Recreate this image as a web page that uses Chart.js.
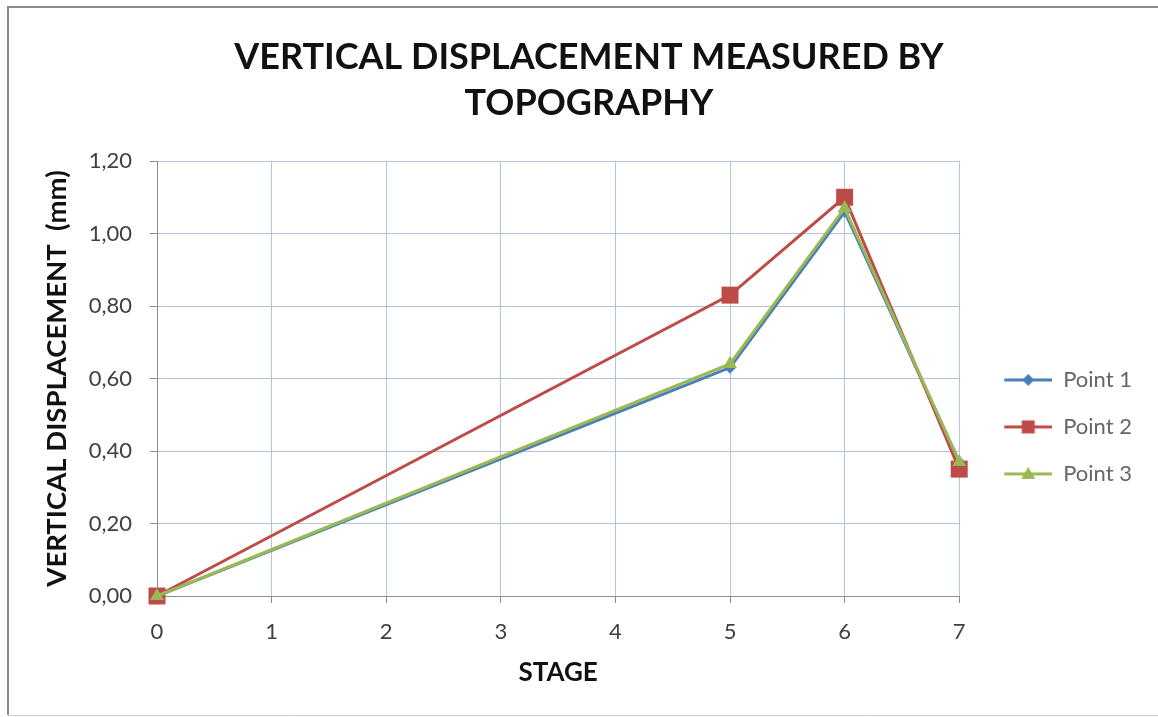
<!DOCTYPE html>
<html>
<head>
<meta charset="utf-8">
<script src="https://cdn.jsdelivr.net/npm/chart.js@4.4.1/dist/chart.umd.min.js"></script>
<style>
  html, body { margin: 0; padding: 0; background: #ffffff; }
  #wrap { width: 1158px; height: 717px; }
</style>
</head>
<body>
<div id="wrap"><canvas id="chart" width="1158" height="717"></canvas></div>
<script>
// Survey stages and vertical displacement (mm) of the three monitored points
const stages = [0, 5, 6, 7];
const point1 = [0.00, 0.63, 1.06, 0.37];
const point2 = [0.00, 0.83, 1.10, 0.35];
const point3 = [0.00, 0.64, 1.07, 0.37];
const seriesNames = ['Point 1', 'Point 2', 'Point 3'];
const yTicks = [0, 0.2, 0.4, 0.6, 0.8, 1.0, 1.2];

const colors = {
  blue: '#4a7ebb',
  red: '#be4b48',
  green: '#98b954'
};

const FONT = 'Lato, "Open Sans", sans-serif';

function pairs(values) {
  return stages.map((s, i) => ({ x: s, y: values[i] }));
}

// Legend sample: short line with the series marker in its middle
function legendIcon(color, marker) {
  const c = document.createElement('canvas');
  c.width = 68; c.height = 22;
  const g = c.getContext('2d');
  g.strokeStyle = color;
  g.lineWidth = 3;
  g.beginPath(); g.moveTo(20, 11); g.lineTo(68, 11); g.stroke();
  g.fillStyle = color;
  const cx = 44, cy = 11;
  g.beginPath();
  if (marker === 'diamond') {
    g.moveTo(cx, cy - 6); g.lineTo(cx + 6, cy); g.lineTo(cx, cy + 6); g.lineTo(cx - 6, cy);
  } else if (marker === 'square') {
    g.rect(cx - 6.5, cy - 6.5, 13, 13);
  } else {
    g.moveTo(cx, cy - 7); g.lineTo(cx + 7, cy + 5); g.lineTo(cx - 7, cy + 5);
  }
  g.closePath(); g.fill();
  return c;
}

const icons = [
  legendIcon(colors.blue, 'diamond'),
  legendIcon(colors.red, 'square'),
  legendIcon(colors.green, 'triangle')
];

// Grey frame around the chart
const framePlugin = {
  id: 'frame',
  beforeDraw(chart) {
    const ctx = chart.ctx;
    ctx.save();
    ctx.fillStyle = '#ffffff';
    ctx.fillRect(0, 0, chart.width, chart.height);
    ctx.strokeStyle = '#8a8a8a';
    ctx.lineWidth = 2;
    ctx.beginPath();
    ctx.moveTo(1158, 7); ctx.lineTo(8, 7); ctx.lineTo(8, 715);
    ctx.stroke();
    ctx.strokeStyle = '#d0d0d0';
    ctx.lineWidth = 1;
    ctx.beginPath();
    ctx.moveTo(8, 715.5); ctx.lineTo(1158, 715.5);
    ctx.stroke();
    ctx.restore();
  }
};

const datasetStyle = [
  { color: colors.blue, pointStyle: 'rectRot', radius: 6, order: 2 },
  { color: colors.red, pointStyle: 'rect', radius: 12, order: 1 },
  { color: colors.green, pointStyle: 'triangle', radius: 8, order: 0 }
];

const seriesValues = [point1, point2, point3];

const datasets = seriesValues.map((vals, i) => ({
  label: seriesNames[i],
  data: pairs(vals),
  borderColor: datasetStyle[i].color,
  backgroundColor: datasetStyle[i].color,
  borderWidth: 3,
  pointStyle: datasetStyle[i].pointStyle,
  pointRadius: datasetStyle[i].radius,
  pointBorderWidth: 0,
  pointBackgroundColor: datasetStyle[i].color,
  tension: 0,
  clip: false,
  order: datasetStyle[i].order
}));

new Chart(document.getElementById('chart'), {
  type: 'line',
  data: { datasets },
  plugins: [framePlugin],
  options: {
    responsive: false,
    animation: false,
    devicePixelRatio: 1,
    layout: { padding: { left: 36, right: 16, top: 8, bottom: 0 } },
    plugins: {
      tooltip: { enabled: false },
      title: {
        display: true,
        text: ['VERTICAL DISPLACEMENT MEASURED BY', 'TOPOGRAPHY'],
        color: '#111111',
        font: { family: FONT, size: 36, weight: 'bold', lineHeight: 46 / 36 },
        padding: { top: 26, bottom: 35 }
      },
      legend: {
        display: true,
        position: 'right',
        title: { display: true, text: ' ', padding: { top: 112, bottom: 0 }, font: { size: 14 } },
        labels: {
          usePointStyle: true,
          pointStyleWidth: 68,
          padding: 25,
          color: '#1a1a1a',
          font: { family: FONT, size: 22 },
          generateLabels: () => seriesNames.map((name, i) => ({
            text: name,
            pointStyle: icons[i],
            fillStyle: datasetStyle[i].color,
            strokeStyle: datasetStyle[i].color,
            lineWidth: 0,
            hidden: false,
            datasetIndex: i
          }))
        }
      }
    },
    scales: {
      x: {
        type: 'linear',
        min: 0,
        max: 7,
        ticks: {
          stepSize: 1,
          color: '#404040',
          font: { family: FONT, size: 22 },
          padding: 16
        },
        grid: { color: '#b4c2e2', lineWidth: 1, tickLength: 7, tickColor: '#8c8c8c' },
        border: { color: '#8c8c8c', width: 1 },
        title: {
          display: true,
          text: 'STAGE',
          color: '#111111',
          font: { family: FONT, size: 26, weight: 'bold' },
          padding: { top: 0, bottom: 29 }
        },
        afterFit: (scale) => { scale.height = 121; }
      },
      y: {
        type: 'linear',
        min: 0,
        max: 1.2,
        afterBuildTicks: (scale) => { scale.ticks = yTicks.map(v => ({ value: v })); },
        ticks: {
          color: '#404040',
          font: { family: FONT, size: 22 },
          padding: 18,
          callback: (v) => Number(v).toFixed(2).replace('.', ',')
        },
        grid: { color: '#b4c2e2', lineWidth: 1, tickLength: 7, tickColor: '#8c8c8c' },
        border: { color: '#8c8c8c', width: 1 },
        title: {
          display: true,
          text: 'VERTICAL DISPLACEMENT  (mm)',
          color: '#111111',
          font: { family: FONT, size: 27.5, weight: 'bold' },
          padding: { top: 4.5, bottom: 0 }
        },
        afterFit: (scale) => { scale.width = 121; }
      }
    }
  }
});
</script>
</body>
</html>
